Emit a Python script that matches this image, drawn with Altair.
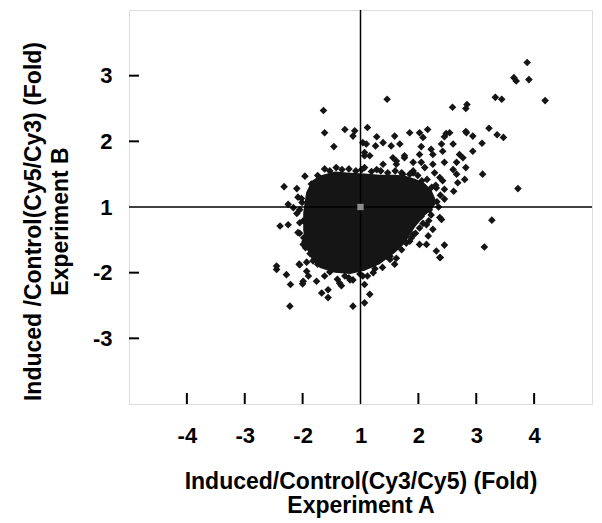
import altair as alt
import pandas as pd

# Plot coordinates (u): fold f>0 -> u=f-1, fold f<0 -> u=f+1
x_ticks = [-3, -2, -1, 0, 1, 2, 3]
y_ticks = [-2, -1, 0, 1, 2]

# Dense core of the cloud (boundary, plot units)
core_x = [-0.99, -0.94, -0.84, -0.70, -0.44, -0.18, 0.07, 0.33, 0.59, 0.76, 0.94, 1.11, 1.23, 1.30]
core_top = [-0.09, 0.22, 0.40, 0.48, 0.54, 0.52, 0.51, 0.49, 0.49, 0.48, 0.43, 0.36, 0.25, 0.11]
core_bottom = [-0.35, -0.62, -0.80, -0.93, -1.00, -1.02, -0.97, -0.87, -0.70, -0.56, -0.31, -0.13, -0.04, 0.05]

# Individual genes (diamonds), plot units
pt_x = [2.88, 2.65, 2.69, 2.91, 0.46, 1.59, 1.84, 1.82, 2.33, 2.44, 3.19, 2.22, 2.36, 2.47, 1.82, 1.94,
        2.10, 1.94, 2.11, 1.54, 1.45, 1.60, 1.16, 1.02, 0.85, 0.59, 0.39, 0.53, 0.68, 1.08, 1.05, 1.22,
        1.25, 0.76, 0.62, 1.02, 1.05, 1.40, 1.42, 1.45, 1.66, 1.77, 1.82, 0.91, 1.28, 1.60, 2.72, 2.27,
        2.14, 1.80, 1.68, 1.61, 1.45, 1.40, 1.18, 1.05, 1.02, 1.17, 1.45, 1.31, 1.38, 1.14, 0.85, 0.59,
        0.51, 1.66, 1.25, 1.42, 1.31,
        -0.64, -0.62, -0.27, -0.13, -0.10, -0.46, 0.12, 0.28, 0.26, 0.04, 0.07, 0.16, 0.07, -0.96, -1.32,
        -1.10, -1.02, -1.25, -1.16, -1.05, 0.10, 0.07, 0.28, 0.39, 0.56, 0.62, 0.76, 0.91, 1.11, 0.91,
        0.73, 1.48, 1.83, 1.71, 1.37, 1.45,
        1.02, 1.37, 1.14, 1.25, 1.02, 1.37, 0.91, 0.79, 0.45,
        -1.39, -1.25, -1.08, -0.99, -1.45, -1.45, -1.28, -1.21, -1.05, -0.93, -0.99, -0.76, -0.67, -0.56,
        -0.56, -0.36, -0.13, 0.07, 0.16, 0.07, -0.13, -1.22, -0.93, -1.06, -1.00, -0.90, -0.33, -0.18,
        0.04, 0.22, -0.96, -0.99,
        -0.74, -0.53, -0.32, -0.08, 0.19, 0.47, 0.71, 0.99, -1.01, -1.05, -0.98, -0.87, -0.74, -0.53,
        -0.27, -0.01, 0.25, 0.51, 0.71, 0.88, 1.19, 1.32, 1.23, 1.06,
        -0.85, -0.62, -0.42, -0.20, 0.02, 0.35, 0.60, 0.85, 1.15, 1.30,
        -1.08, -1.10, -1.05, -0.95, -0.82,
        -0.62, -0.40, -0.20, 0.12, 0.38, 0.62,
        0.95, 1.08, 1.22, 1.35, 1.38]
pt_y = [2.20, 1.97, 1.92, 1.94, 1.64, 1.52, 1.56, 1.50, 1.67, 1.64, 1.62, 1.20, 1.10, 1.06, 1.15, 1.08,
        0.97, 0.85, 0.50, 1.13, 1.07, 0.96, 1.18, 1.13, 1.13, 1.08, 0.98, 0.93, 0.96, 1.06, 0.92, 0.88,
        0.80, 0.78, 0.70, 0.80, 0.68, 0.96, 0.85, 0.68, 0.68, 0.75, 0.60, 0.55, 0.52, 0.57, 0.28, -0.20,
        -0.61, 0.42, 0.37, 0.24, 0.12, -0.19, -0.21, -0.14, -0.32, -0.44, -0.58, -0.67, -0.77, -0.57, -0.52, -0.87,
        -0.75, 0.50, 0.65, 0.40, 0.29,
        1.47, 1.13, 1.18, 1.08, 1.16, 0.92, 1.21, 1.07, 0.93, 0.98, 0.78, 0.78, 0.60, 0.47, 0.31,
        0.28, 0.13, 0.04, -0.01, -0.04, 0.96, 0.83, 0.57, 0.65, 0.75, 0.65, 0.75, 0.68, 0.60, 0.52,
        0.50, 1.12, 1.13, 0.80, 0.45, 0.27,
        -0.16, -0.16, -0.27, -0.34, -0.57, -0.77, -0.42, -0.55, -0.75,
        -0.29, -0.27, -0.39, -0.57, -0.95, -0.90, -1.03, -1.18, -0.88, -0.98, -1.13, -1.13, -1.31, -1.38,
        -1.26, -1.16, -1.11, -1.18, -1.33, -1.46, -1.51, -1.51, -0.84, -0.87, -1.17, -1.05, -1.20, -1.11,
        -1.05, -1.00, -0.52, -0.21,
        0.48, 0.55, 0.57, 0.55, 0.54, 0.52, 0.52, 0.48, 0.07, -0.24, -0.47, -0.71, -0.87, -0.99,
        -1.05, -1.02, -0.94, -0.80, -0.65, -0.47, -0.04, 0.08, 0.30, 0.40,
        0.35, 0.58, 0.60, 0.58, 0.57, 0.55, 0.55, 0.50, 0.42, 0.33,
        0.15, -0.10, -0.40, -0.62, -0.82,
        -1.05, -1.10, -1.08, -1.05, -0.92, -0.78,
        -0.40, -0.25, -0.12, 0.00, 0.18]

W, H = 463, 394
INK = "#151515"
FONT = "Liberation Sans"

core_df = pd.DataFrame({"x": core_x, "y": core_top, "y2": core_bottom})
pts_df = pd.DataFrame({"x": pt_x, "y": pt_y})
xt_df = pd.DataFrame({"x": [v for v in x_ticks if v != 0]})
yt_df = pd.DataFrame({"y": [v for v in y_ticks if v != 0]})
ctr_df = pd.DataFrame({"x": [0], "y": [0]})

lab = "datum.value >= 0 ? datum.value + 1 : datum.value - 1"
xscale = alt.Scale(domain=[-4, 4], nice=False, zero=False)
yscale = alt.Scale(domain=[-3, 3], nice=False, zero=False)

xaxis = alt.Axis(values=x_ticks, labelExpr=lab, ticks=False, domain=False, grid=False,
                 labelPadding=21, labelFontSize=22, labelFontWeight="bold", labelFont=FONT,
                 labelColor="black", title=["Induced/Control(Cy3/Cy5) (Fold)", "Experiment A"],
                 titleFontSize=23, titleFontWeight="bold", titleFont=FONT,
                 titleColor="black", titlePadding=24, titleLineHeight=24)
yaxis = alt.Axis(values=y_ticks, labelExpr=lab, ticks=False, domain=False, grid=False,
                 labelPadding=17, labelFontSize=22, labelFontWeight="bold", labelFont=FONT,
                 labelColor="black", title=["Induced /Control(Cy5/Cy3) (Fold)", "Experiment B"],
                 titleFontSize=23, titleFontWeight="bold", titleFont=FONT,
                 titleColor="black", titlePadding=20, titleLineHeight=27, titleY=211)

core = alt.Chart(core_df).mark_area(color=INK, opacity=1).encode(
    x=alt.X("x:Q", scale=xscale, axis=xaxis),
    y=alt.Y("y:Q", scale=yscale, axis=yaxis),
    y2="y2:Q",
)
pts = alt.Chart(pts_df).mark_point(shape="diamond", filled=True, color=INK, opacity=1, size=58).encode(
    x="x:Q", y="y:Q")
vline = alt.Chart(ctr_df).mark_rule(color="black", strokeWidth=1.5).encode(x="x:Q")
hline = alt.Chart(ctr_df).mark_rule(color="black", strokeWidth=1.5).encode(y="y:Q")
xt = alt.Chart(xt_df).mark_rule(color="black", strokeWidth=2).encode(
    x="x:Q", y=alt.value(H), y2=alt.value(H - 11))
yt = alt.Chart(yt_df).mark_rule(color="black", strokeWidth=2).encode(
    y="y:Q", x=alt.value(0), x2=alt.value(10))
ctr = alt.Chart(ctr_df).mark_point(shape="square", filled=True, color="#8c8c8c", opacity=1, size=40).encode(
    x="x:Q", y="y:Q")

chart = alt.layer(core, pts, vline, hline, xt, yt, ctr).properties(
    width=W, height=H,
    autosize=alt.AutoSizeParams(type="none"),
    padding={"left": 121, "top": 2, "right": 2, "bottom": 115},
).configure_view(stroke="black", strokeWidth=2).configure(background="white")

chart.save("out.html", embed_options={"renderer": "svg", "actions": False})
